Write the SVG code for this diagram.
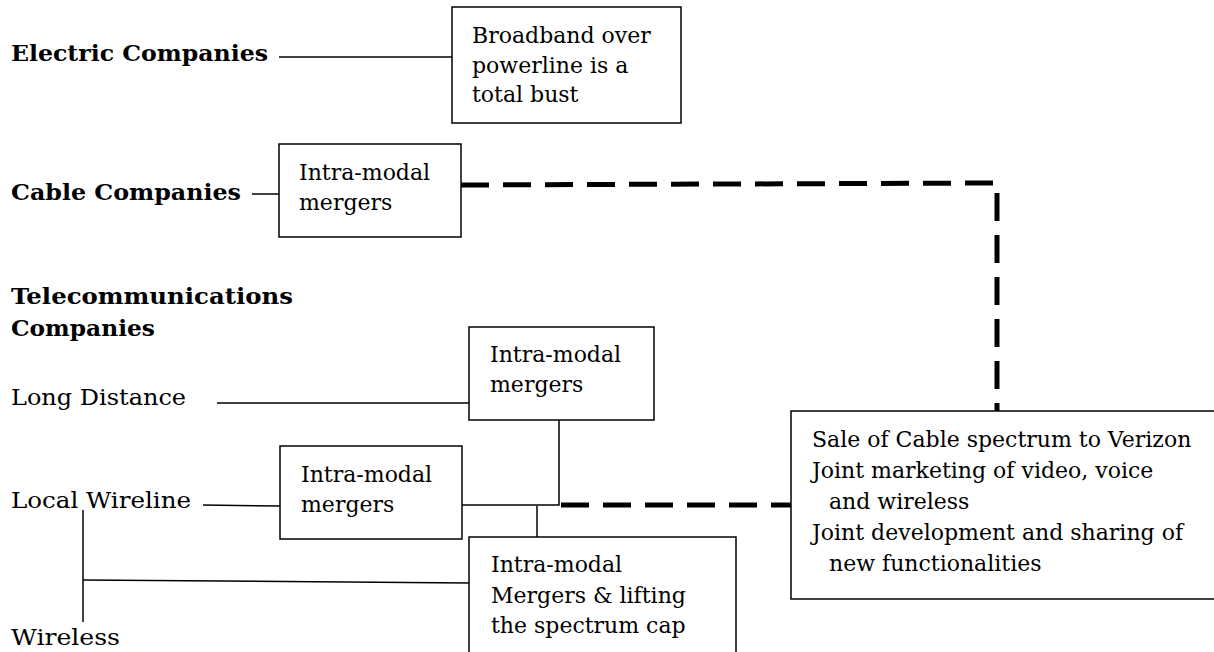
<svg xmlns="http://www.w3.org/2000/svg" width="1214" height="652" viewBox="0 0 1214 652">
<style>
text{font-family:"DejaVu Serif","Liberation Serif",serif;font-size:22px;fill:#000}
.b{font-weight:bold;font-size:22px}
.box{fill:#fff;stroke:#000;stroke-width:1.5}
.ln{stroke:#000;stroke-width:1.5;fill:none}
.dash{stroke:#000;stroke-width:5;fill:none;stroke-dasharray:28 14}
</style>
<rect width="1214" height="652" fill="#fff"/>
<g id="connectors">
<line class="ln" x1="279" y1="57" x2="452" y2="57"/>
<line class="ln" x1="252" y1="194" x2="279" y2="194"/>
<line class="ln" x1="217" y1="403" x2="469" y2="403"/>
<line class="ln" x1="203" y1="505" x2="280" y2="506"/>
<polyline class="ln" points="559,420 559,505 462,505"/>
<line class="ln" x1="537" y1="506" x2="537" y2="537"/>
<line class="ln" x1="83" y1="510" x2="83" y2="622"/>
<line class="ln" x1="83" y1="580" x2="469" y2="583"/>
<polyline class="dash" points="461,185 997,183 997,411"/>
<line class="dash" x1="561" y1="505" x2="791" y2="505"/>
</g>
<g id="labels">
<text class="b" x="11" y="61" textLength="257" lengthAdjust="spacingAndGlyphs">Electric Companies</text>
<text class="b" x="11" y="200" textLength="230" lengthAdjust="spacingAndGlyphs">Cable Companies</text>
<text class="b" x="11" y="304" textLength="282" lengthAdjust="spacingAndGlyphs">Telecommunications</text>
<text class="b" x="11" y="336" textLength="144" lengthAdjust="spacingAndGlyphs">Companies</text>
<text x="11" y="405" textLength="175" lengthAdjust="spacingAndGlyphs">Long Distance</text>
<text x="11" y="508" textLength="180" lengthAdjust="spacingAndGlyphs">Local Wireline</text>
<text x="11" y="645" textLength="109" lengthAdjust="spacingAndGlyphs">Wireless</text>
</g>
<g id="node-bpl">
<rect class="box" x="452" y="7" width="229" height="116"/>
<text x="472" y="43">Broadband over</text>
<text x="472" y="73">powerline is a</text>
<text x="472" y="102">total bust</text>
</g>
<g id="node-cable">
<rect class="box" x="279" y="144" width="182" height="93"/>
<text x="299" y="180">Intra-modal</text>
<text x="299" y="210">mergers</text>
</g>
<g id="node-ld">
<rect class="box" x="469" y="327" width="185" height="93"/>
<text x="490" y="362">Intra-modal</text>
<text x="490" y="392">mergers</text>
</g>
<g id="node-lw">
<rect class="box" x="280" y="446" width="182" height="93"/>
<text x="301" y="482">Intra-modal</text>
<text x="301" y="512">mergers</text>
</g>
<g id="node-wireless">
<rect class="box" x="469" y="537" width="267" height="118"/>
<text x="491" y="572">Intra-modal</text>
<text x="491" y="603">Mergers &amp; lifting</text>
<text x="491" y="633">the spectrum cap</text>
</g>
<g id="node-verizon">
<rect class="box" x="791" y="411" width="425" height="188"/>
<text x="812" y="447">Sale of Cable spectrum to Verizon</text>
<text x="812" y="478">Joint marketing of video, voice</text>
<text x="829" y="509">and wireless</text>
<text x="812" y="540">Joint development and sharing of</text>
<text x="829" y="571">new functionalities</text>
</g>
</svg>
